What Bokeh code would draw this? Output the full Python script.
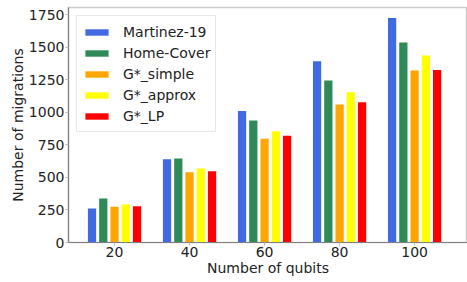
from bokeh.plotting import figure
from bokeh.models import ColumnDataSource, Legend, LegendItem, FixedTicker, Range1d
from bokeh.transform import dodge
from bokeh.embed import file_html
from bokeh.resources import INLINE

qubits = [20, 40, 60, 80, 100]
martinez = [261, 640, 1010, 1392, 1724]
home_cover = [338, 645, 936, 1243, 1535]
g_simple = [274, 540, 796, 1059, 1320]
g_approx = [292, 568, 854, 1154, 1435]
g_lp = [279, 547, 819, 1077, 1325]

series = [
    ("Martinez-19", "martinez", martinez, "#4169E1"),
    ("Home-Cover", "home_cover", home_cover, "#2E8B57"),
    ("G*_simple", "g_simple", g_simple, "#FFA500"),
    ("G*_approx", "g_approx", g_approx, "#FFFF00"),
    ("G*_LP", "g_lp", g_lp, "#FF0000"),
]

data = {"qubits": qubits}
for _, key, vals, _ in series:
    data[key] = vals
source = ColumnDataSource(data)

FONT = "DejaVu Sans"

p = figure(width=467, height=282, output_backend="svg", toolbar_location=None,
           x_range=Range1d(7.73, 114.1), y_range=Range1d(0, 1804),
           min_border_left=68, min_border_right=0, min_border_top=7, min_border_bottom=40)

items = []
step = 3.0
for i, (label, key, vals, color) in enumerate(series):
    r = p.vbar(x=dodge("qubits", (i - 2) * step, range=p.x_range), top=key, width=2.2,
               source=source, fill_color=color, line_color=None)
    items.append(LegendItem(label=label, renderers=[r]))

legend = Legend(items=items, location="top_left")
legend.label_text_font = FONT
legend.label_text_font_size = "14px"
legend.label_text_color = "#222222"
legend.glyph_width = 29
legend.glyph_height = 8
legend.label_height = 21
legend.label_standoff = 12
legend.spacing = 0
legend.padding = 5
legend.margin = 8
legend.border_line_color = "#d0d0d0"
legend.border_line_width = 1
legend.background_fill_alpha = 0.8
p.add_layout(legend)

p.xgrid.grid_line_color = None
p.ygrid.grid_line_color = None
p.outline_line_color = "#cccccc"
p.outline_line_width = 1.5

p.xaxis.ticker = FixedTicker(ticks=qubits)
p.yaxis.ticker = FixedTicker(ticks=[0, 250, 500, 750, 1000, 1250, 1500, 1750])
p.xaxis.axis_label = "Number of qubits"
p.yaxis.axis_label = "Number of migrations"

for ax in (p.xaxis, p.yaxis):
    ax.axis_label_text_font = FONT
    ax.axis_label_text_font_size = "14px"
    ax.axis_label_text_font_style = "normal"
    ax.axis_label_text_color = "#222222"
    ax.major_label_text_font = FONT
    ax.major_label_text_font_size = "14px"
    ax.major_label_text_color = "#222222"
    ax.axis_line_color = "#808080"
    ax.axis_line_width = 1.2
    ax.major_tick_line_color = "#bbbbbb"
    ax.major_tick_out = 3
    ax.major_tick_in = 0
    ax.minor_tick_line_color = None
    ax.major_label_standoff = 1
    ax.axis_label_standoff = 0

open("out.html", "w").write(file_html(p, INLINE))
